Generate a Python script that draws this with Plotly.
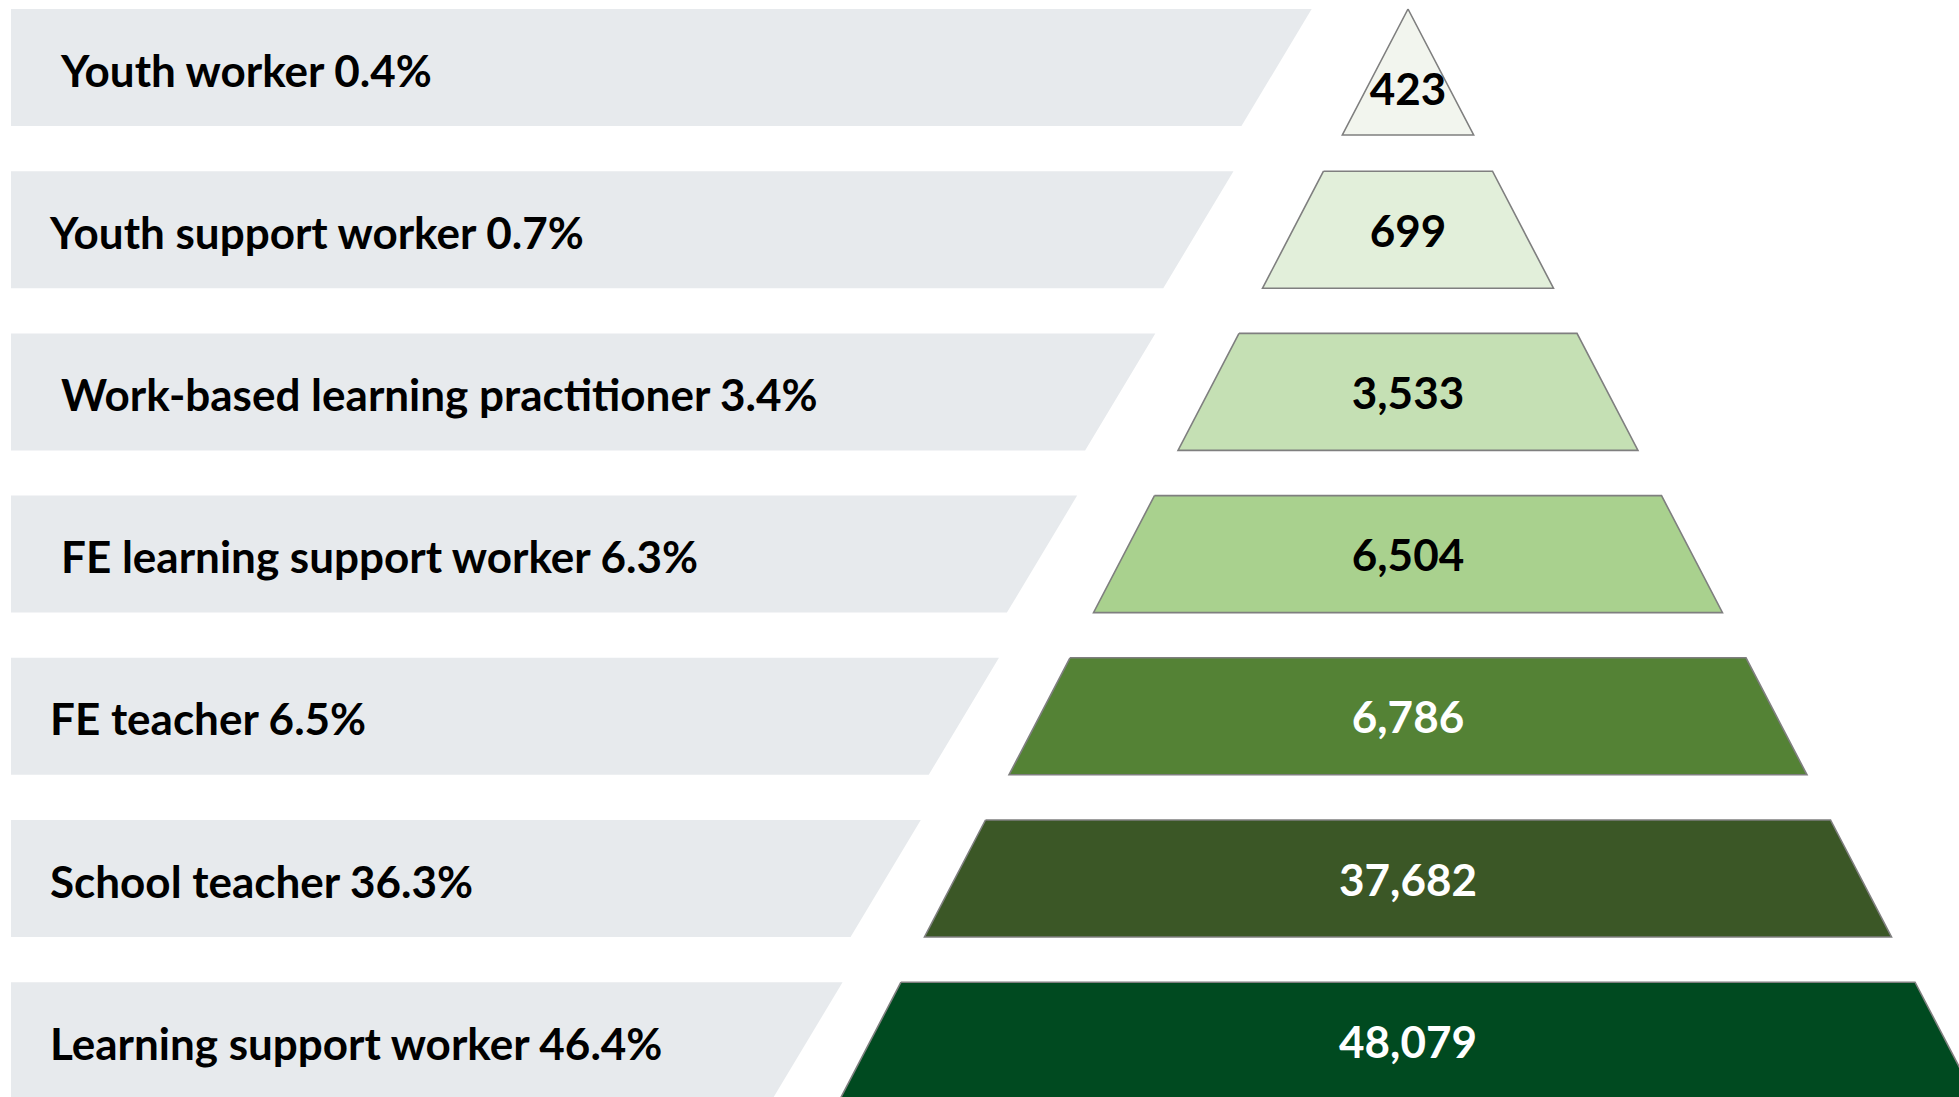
import plotly.graph_objects as go

# ---------------- data ----------------
roles = [
    "Youth worker",
    "Youth support worker",
    "Work-based learning practitioner",
    "FE learning support worker",
    "FE teacher",
    "School teacher",
    "Learning support worker",
]
shares = [0.4, 0.7, 3.4, 6.3, 6.5, 36.3, 46.4]
counts = [423, 699, 3533, 6504, 6786, 37682, 48079]
label_indent = [1, 0, 1, 1, 0, 0, 0]  # leading space in the source labels

fill_colors = ["#F2F5EE", "#E2EFDA", "#C5E0B4", "#A9D18E", "#548235", "#3B5726", "#004A20"]
text_colors = ["#000000", "#000000", "#000000", "#000000", "#FFFFFF", "#FFFFFF", "#FFFFFF"]

# ---------------- layout geometry (pixels) ----------------
W, H = 1959, 1097
ROW_TOP0 = 9
ROW_PITCH = 162.2
ROW_H = 117
FIRST_EXTRA = 9          # apex triangle is slightly taller
APEX_X = 1408
HALF_SLOPE = 0.521       # pyramid half-width growth per pixel of height
BAND_LEFT = 11
BAND_RIGHT0 = 1316
BAND_RIGHT_DRIFT = 0.482
BAND_SLANT = 0.6
LABEL_X = 50
INDENT_PX = 11
LABEL_DY = 8
NUM_DY = 6
BAND_COLOR = "#E7EAED"
OUTLINE = "#7F7F7F"
FONT = "Lato"
FONT_SIZE = 44

fig = go.Figure()

label_x, label_y, label_txt = [], [], []
num_x, num_y, num_txt = [], [], []

for i, (role, share, cnt) in enumerate(zip(roles, shares, counts)):
    top = ROW_TOP0 + ROW_PITCH * i
    h = ROW_H + (FIRST_EXTRA if i == 0 else 0)
    bot = top + h

    # grey label band (slanted right edge)
    br_top = BAND_RIGHT0 - BAND_RIGHT_DRIFT * top
    br_bot = br_top - BAND_SLANT * ROW_H
    band_bot = top + ROW_H
    fig.add_trace(go.Scatter(
        x=[BAND_LEFT, br_top, br_bot, BAND_LEFT, BAND_LEFT],
        y=[top, top, band_bot, band_bot, top],
        fill="toself", fillcolor=BAND_COLOR, mode="lines",
        line=dict(width=0, color=BAND_COLOR), hoverinfo="skip", showlegend=False,
    ))

    # pyramid slice
    ht = HALF_SLOPE * (top - ROW_TOP0)
    hb = HALF_SLOPE * (bot - ROW_TOP0)
    fig.add_trace(go.Scatter(
        x=[APEX_X - ht, APEX_X + ht, APEX_X + hb, APEX_X - hb, APEX_X - ht],
        y=[top, top, bot, bot, top],
        fill="toself", fillcolor=fill_colors[i], mode="lines",
        line=dict(width=1.6, color=OUTLINE), hoverinfo="skip", showlegend=False,
    ))

    label_x.append(LABEL_X + INDENT_PX * label_indent[i])
    label_y.append(top + ROW_H / 2 + LABEL_DY)
    label_txt.append(f"{role} {share:.1f}%")

    num_x.append(APEX_X)
    num_y.append(top + h * (0.63 if i == 0 else 0.5) + NUM_DY)
    num_txt.append(f"{cnt:,}")

fig.add_trace(go.Scatter(
    x=label_x, y=label_y, text=label_txt, mode="text",
    textposition="middle right",
    textfont=dict(family=FONT, size=FONT_SIZE, color="#000000", weight="bold"),
    hoverinfo="skip", showlegend=False,
))
fig.add_trace(go.Scatter(
    x=num_x, y=num_y, text=num_txt, mode="text",
    textposition="middle center",
    textfont=dict(family=FONT, size=FONT_SIZE, color=text_colors, weight="bold"),
    hoverinfo="skip", showlegend=False,
))

fig.update_layout(
    width=W, height=H,
    margin=dict(l=0, r=0, t=0, b=0),
    paper_bgcolor="#FFFFFF", plot_bgcolor="#FFFFFF",
    xaxis=dict(range=[0, W], visible=False, fixedrange=True),
    yaxis=dict(range=[H, 0], visible=False, fixedrange=True),
    showlegend=False,
)

fig.write_html(
    "out.html",
    config={"displayModeBar": False, "staticPlot": True},
    post_script="document.body.style.margin='0';document.body.style.overflow='hidden';",
)
